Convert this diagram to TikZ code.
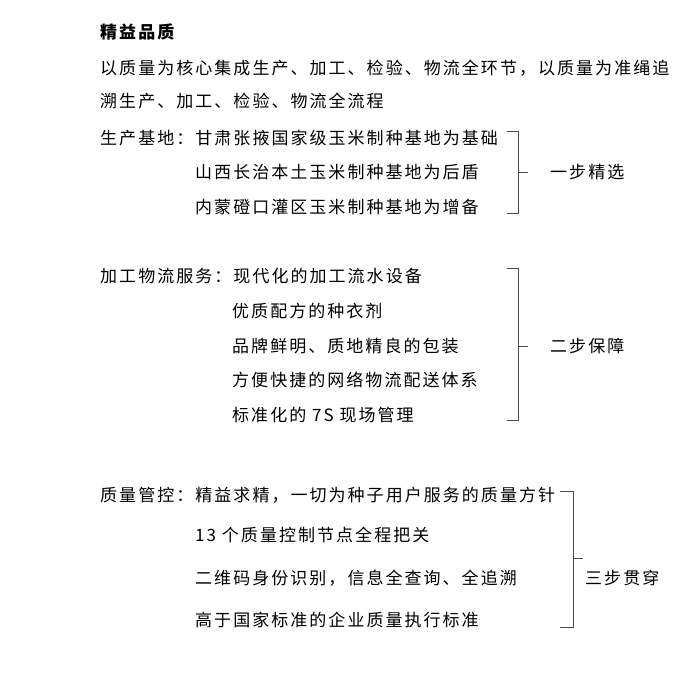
\documentclass[tikz,border=0pt]{standalone}
\usepackage{fontspec}
\setmainfont{Noto Sans CJK SC}[LetterSpace=12]
\begin{document}
\begin{tikzpicture}[x=1pt,y=-1pt,
  txt/.style={anchor=west,inner sep=0pt,font=\fontsize{17}{20}\selectfont},
  brk/.style={draw=black!70,line width=0.7pt}]
\useasboundingbox (0,0) rectangle (691,678);
\node[txt,font=\fontsize{17}{20}\selectfont\bfseries] (t) at (100,32) {精益品质};
\node[txt] (l1) at (100,68) {以质量为核心集成生产、加工、检验、物流全环节，以质量为准绳追};
\node[txt] (l2) at (100,101) {溯生产、加工、检验、物流全流程};
\node[txt] (a1) at (100,138) {生产基地：甘肃张掖国家级玉米制种基地为基础};
\node[txt] (a2) at (195,172) {山西长治本土玉米制种基地为后盾};
\node[txt] (a3) at (195,207) {内蒙磴口灌区玉米制种基地为增备};
\node[txt] (b1) at (100,276) {加工物流服务：现代化的加工流水设备};
\node[txt] (b2) at (232,311) {优质配方的种衣剂};
\node[txt] (b3) at (232,346) {品牌鲜明、质地精良的包装};
\node[txt] (b4) at (232,380) {方便快捷的网络物流配送体系};
\node[txt] (b5) at (232,415) {标准化的 7S 现场管理};
\node[txt] (c1) at (100,495) {质量管控：精益求精，一切为种子用户服务的质量方针};
\node[txt] (c2) at (195,535) {13 个质量控制节点全程把关};
\node[txt] (c3) at (195,578) {二维码身份识别，信息全查询、全追溯};
\node[txt] (c4) at (195,620) {高于国家标准的企业质量执行标准};
\node[txt] (s1) at (550,172) {一步精选};
\node[txt] (s2) at (550,346) {二步保障};
\node[txt] (s3) at (585,578) {三步贯穿};
\draw[brk] (507,131) -- (518,131) -- (518,213) -- (507,213) (518,172) -- (528,172);
\draw[brk] (507,268) -- (518,268) -- (518,420) -- (507,420) (518,346) -- (528,346);
\draw[brk] (560,491) -- (573,491) -- (573,627) -- (560,627) (573,558) -- (583,558);
\end{tikzpicture}
\end{document}
